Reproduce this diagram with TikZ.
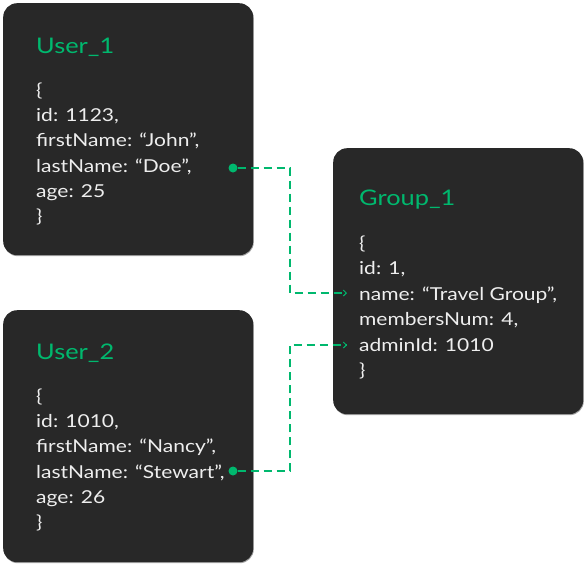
\documentclass[tikz,border=0pt]{standalone}
\usepackage{fontspec}
\setmainfont{Lato}[FakeStretch=1.18]
\usetikzlibrary{shadows,arrows.meta}
\definecolor{cardfill}{RGB}{40,40,40}
\definecolor{accent}{RGB}{0,184,110}
\definecolor{bodytext}{RGB}{238,238,238}
\begin{document}
\begin{tikzpicture}[x=1pt,y=-1pt,
  cardbox/.style={fill=cardfill, rounded corners=14pt, inner sep=0pt, anchor=north west,
    minimum width=250pt, drop shadow={shadow xshift=0.6pt, shadow yshift=-1pt, opacity=0.35, fill=black}},
  title/.style={text=accent, font=\fontsize{21.5}{26}\selectfont, anchor=base west, inner sep=0pt},
  body/.style={text=bodytext, font=\fontsize{17.8}{22}\selectfont, anchor=base west, inner sep=0pt},
  dot/.style={circle, fill=accent, inner sep=0pt, minimum size=9pt},
  conn/.style={draw=accent, line width=1.1pt, dash pattern=on 8pt off 5pt,
    -{Straight Barb[length=3pt,width=6pt,line width=1pt]}}]
\useasboundingbox (0,0) rectangle (586,565);
\fill[white] (0,0) rectangle (586,565);
% cards
\node[cardbox, minimum height=252pt] (user1) at (3,3) {};
\node[cardbox, minimum height=252pt] (user2) at (3,310) {};
\node[cardbox, minimum height=266pt] (group1) at (333,148) {};
% User_1
\node[title] (u1t) at (36,53) {User\_1};
\node[body] (u1a) at (36,96) {\{};
\node[body] (u1b) at (36,121) {id: 1123,};
\node[body] (u1c) at (36,146) {firstName: “John”,};
\node[body] (u1d) at (36,172) {lastName: “Doe”,};
\node[body] (u1e) at (36,197) {age: 25};
\node[body] (u1f) at (36,222) {\}};
% User_2
\node[title] (u2t) at (36,359) {User\_2};
\node[body] (u2a) at (36,402) {\{};
\node[body] (u2b) at (36,427) {id: 1010,};
\node[body] (u2c) at (36,452) {firstName: “Nancy”,};
\node[body] (u2d) at (36,478) {lastName: “Stewart”,};
\node[body] (u2e) at (36,503) {age: 26};
\node[body] (u2f) at (36,528) {\}};
% Group_1
\node[title] (g1t) at (359,205) {Group\_1};
\node[body] (g1a) at (359,249) {\{};
\node[body] (g1b) at (359,274) {id: 1,};
\node[body] (g1c) at (359,300) {name: “Travel Group”,};
\node[body] (g1d) at (359,325) {membersNum: 4,};
\node[body] (g1e) at (359,351) {adminId: 1010};
\node[body] (g1f) at (359,376) {\}};
% connectors
\node[dot] (d1) at (233,168) {};
\node[dot] (d2) at (233,471) {};
\coordinate (in1) at (347,293);
\coordinate (in2) at (347,345);
\draw[conn] (d1) -- ++(57,0) |- (in1);
\draw[conn] (d2) -- ++(57,0) |- (in2);
\end{tikzpicture}
\end{document}
